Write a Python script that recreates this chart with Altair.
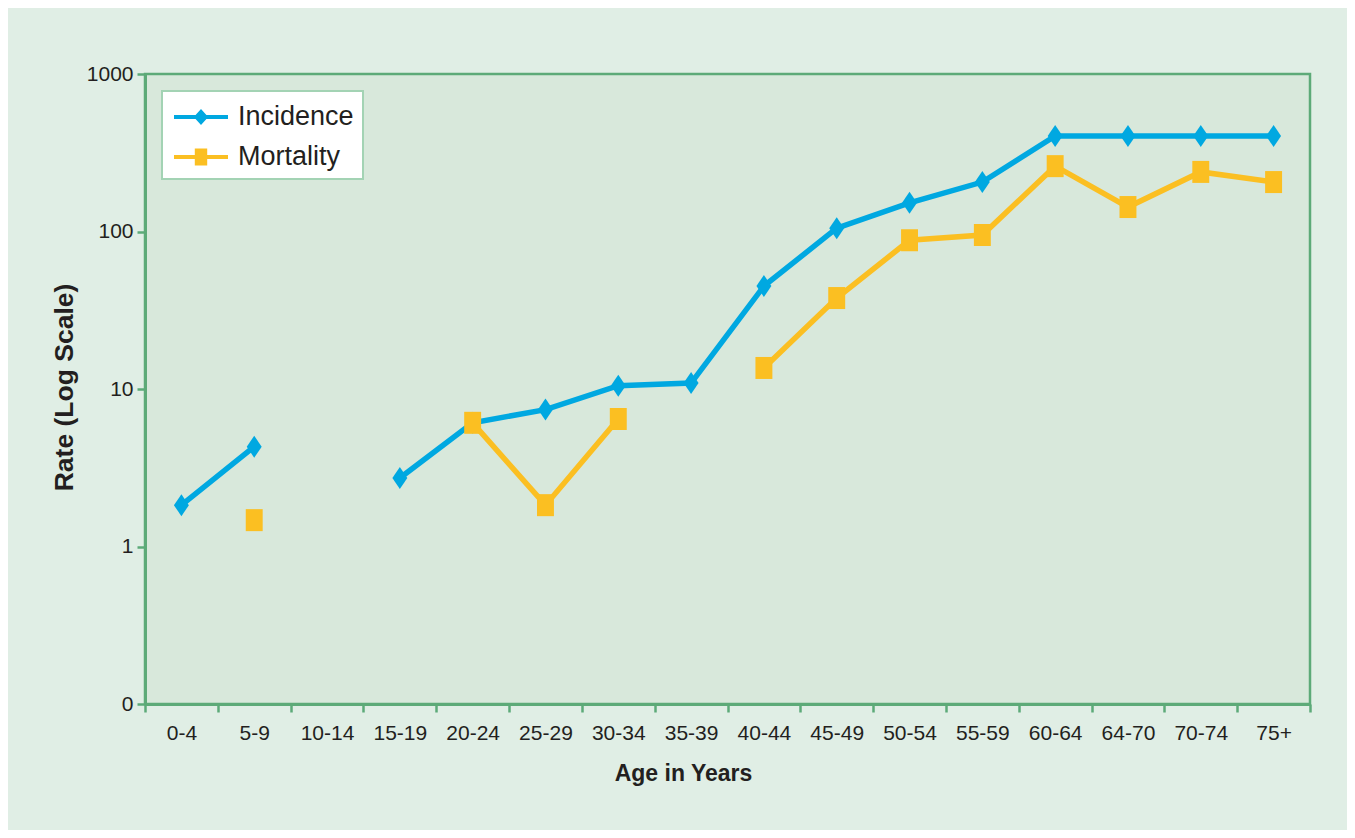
import altair as alt
import pandas as pd

ages = ["0-4", "5-9", "10-14", "15-19", "20-24", "25-29", "30-34", "35-39",
        "40-44", "45-49", "50-54", "55-59", "60-64", "64-70", "70-74", "75+"]
incidence = [1.83, 4.3, None, 2.72, 6.1, 7.4, 10.5, 10.9,
             45, 105, 152, 206, 404, 404, 404, 404]
mortality = [None, 1.47, None, None, 6.1, 1.83, 6.45, None,
             13.6, 37.8, 88, 95, 260, 143, 239, 206]
series_names = ["Incidence", "Mortality"]
series_colors = ["#00a8e1", "#fbbf22"]
y_ticks = [0.1, 1, 10, 100, 1000]

rows = []
for name, vals in zip(series_names, [incidence, mortality]):
    for a, v in zip(ages, vals):
        rows.append({"age": a, "series": name, "rate": v})
df = pd.DataFrame(rows)

GREEN = "#5daa78"
FONT = "Liberation Sans"

# marker shapes (custom paths) and legend symbols (line + marker)
DIAMOND = "M0,-1L0.68,0L0,1L-0.68,0Z"
RECT = "M-0.77,-1L0.77,-1L0.77,1L-0.77,1Z"
LEG_DIAMOND = ("M-1.588,-0.118L-0.318,-0.118L0,-0.476L0.318,-0.118L1.588,-0.118"
               "L1.588,0.118L0.318,0.118L0,0.476L-0.318,0.118L-1.588,0.118Z")
LEG_RECT = ("M-1.588,-0.118L-0.365,-0.118L-0.365,-0.494L0.365,-0.494L0.365,-0.118"
            "L1.588,-0.118L1.588,0.118L0.365,0.118L0.365,0.494L-0.365,0.494"
            "L-0.365,0.118L-1.588,0.118Z")

x_enc = alt.X(
    "age:N", sort=ages,
    scale=alt.Scale(type="band", paddingInner=0, paddingOuter=0),
    axis=alt.Axis(title="Age in Years", labelAngle=0, tickBand="extent",
                  labelPadding=10, titleX=538, titleY=69, titleBaseline="middle",
                  titleAlign="center"),
)
y_enc = alt.Y(
    "rate:Q",
    scale=alt.Scale(type="log", domain=[0.1, 1000], nice=False),
    axis=alt.Axis(title="Rate (Log Scale)", values=y_ticks, grid=False,
                  labelExpr="datum.value < 0.5 ? '0' : format(datum.value, 'd')",
                  labelPadding=4, titleX=-81, titleY=313, titleAngle=-90,
                  titleBaseline="middle", titleAlign="center", titleFontSize=26.5),
)

base = alt.Chart(df)


def series_layer(name, color, shape):
    sub = base.transform_filter(alt.datum.series == name)
    line = sub.mark_line(strokeWidth=5.5, color=color,
                         invalid="break-paths-filter-domains").encode(x=x_enc, y=y_enc)
    pts = sub.transform_filter("isValid(datum.rate)").mark_point(
        shape=shape, filled=True, size=484, opacity=1, color=color
    ).encode(x=x_enc, y=y_enc)
    return [line, pts]


layers = series_layer("Incidence", series_colors[0], DIAMOND) + \
    series_layer("Mortality", series_colors[1], RECT)

legend_layer = base.transform_filter("isValid(datum.rate)").mark_point(
    filled=True, opacity=0
).encode(
    x=x_enc, y=y_enc,
    color=alt.Color("series:N", scale=alt.Scale(domain=series_names, range=series_colors),
                    legend=alt.Legend(title=None, symbolOpacity=1)),
    shape=alt.Shape("series:N",
                    scale=alt.Scale(domain=series_names, range=[LEG_DIAMOND, LEG_RECT]),
                    legend=alt.Legend(title=None, symbolOpacity=1)),
)

chart = alt.layer(*layers, legend_layer).properties(
    width=1165, height=630,
    autosize=alt.AutoSizeParams(type="none"),
    padding={"left": 137, "top": 66, "right": 37, "bottom": 126},
    background="#e0eee5",
).configure_view(
    fill="#d8e8db", stroke=GREEN, strokeWidth=2.5,
).configure_axis(
    domainColor=GREEN, domainWidth=3, tickColor=GREEN, tickWidth=2.5, tickSize=8,
    labelFont=FONT, labelFontSize=21, labelColor="#231f20",
    titleFont=FONT, titleFontSize=23, titleFontWeight="bold", titleColor="#231f20",
).configure_legend(
    orient="top-left", offset=17, fillColor="white", strokeColor="#a3d3b4",
    strokeWidth=2, padding=9, labelFont=FONT, labelFontSize=27,
    labelColor="#231f20", symbolSize=1156, symbolStrokeWidth=0,
    symbolOffset=13, labelOffset=20, rowPadding=10, symbolOpacity=1,
)

chart.save("out.html", embed_options={"renderer": "svg", "actions": False})
